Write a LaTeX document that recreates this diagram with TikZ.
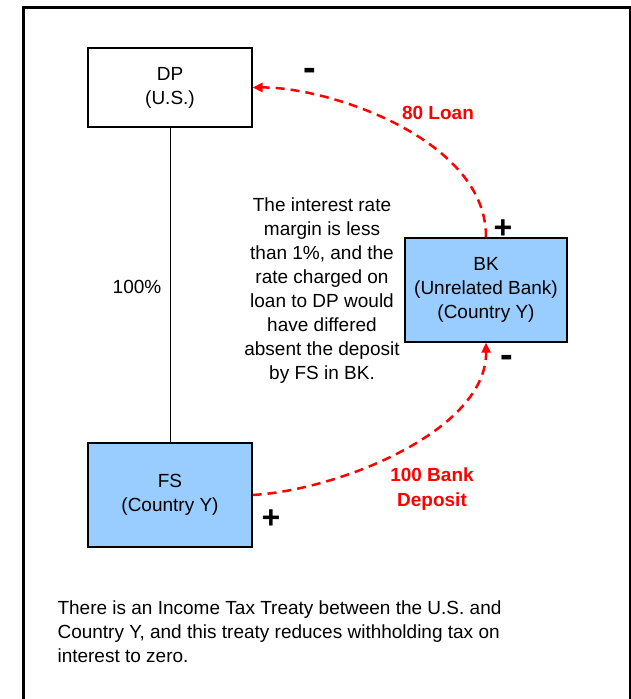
\documentclass[tikz,border=0pt]{standalone}
\usepackage{fontspec}
\setmainfont{Liberation Sans}
\usepackage{xcolor}
\usetikzlibrary{arrows.meta}
\definecolor{entityblue}{HTML}{99ccff}
\definecolor{flowred}{HTML}{ff0000}

\tikzset{
    entity/.style = {draw, rectangle, line width = 1.2pt, minimum width = 164pt, minimum height = 104pt, align = center, font = \fontsize{19}{24}\selectfont},
    flow/.style = {-{Triangle[length = 10pt, width = 9pt]}, flowred, line width = 2.5pt, dash pattern = on 9pt off 6pt},
    flowlabel/.style = {flowred, align = center, font = \fontsize{19}{25}\selectfont\bfseries},
    sign/.style = {font = \fontsize{32}{32}\selectfont\bfseries, inner sep = 0pt},
    minussign/.style = {sign, font = \fontsize{38}{38}\selectfont\bfseries}
}

\begin{document}
\begin{tikzpicture}[x = 1pt, y = -1pt]
        \useasboundingbox (0, 0) rectangle (631, 699);

        % Frame (open at the bottom)
        \draw [line width = 3pt] (23, 699) -- (23, 7) -- (630, 7) -- (630, 699);

        % Nodes
        \node [entity, fill = white, minimum height = 79pt] (dp) at (170, 87.5) {DP\\(U.S.)};
        \node [entity, fill = entityblue, minimum width = 162pt] (bk) at (486, 290) {BK\\(Unrelated Bank)\\(Country Y)};
        \node [entity, fill = entityblue] (fs) at (170, 495) {FS\\(Country Y)};

        % Ownership
        \draw [line width = 1pt] (dp.south) -- (fs.north);
        \node [font = \fontsize{19}{24}\selectfont] (own) at (137, 287) {100\%};

        % Draw the links
        \draw [flow] (bk.north) .. controls (487, 140) and (330, 87) .. (dp.east);
        \draw [flow] (fs.east) .. controls (340, 490) and (487, 430) .. (bk.south);

        % Link labels
        \node [flowlabel] (loan) at (438, 113) {80 Loan};
        \node [flowlabel] (deposit) at (432, 489) {100 Bank\\Deposit};

        % Signs
        \node [minussign] (dpminus) at (310, 74) {-};
        \node [sign] (bkplus) at (503, 229) {+};
        \node [minussign] (bkminus) at (507, 361) {-};
        \node [sign] (fsplus) at (271, 519) {+};

        % Notes
        \node [align = center, font = \fontsize{19}{24}\selectfont] (margin) at (322, 291) {The interest rate\\margin is less\\than 1\%, and the\\rate charged on\\loan to DP would\\have differed\\absent the deposit\\by FS in BK.};
        \node [align = left, anchor = west, font = \fontsize{19}{24}\selectfont] (treaty) at (54, 632) {There is an Income Tax Treaty between the U.S. and\\Country Y, and this treaty reduces withholding tax on\\interest to zero.};

    \end{tikzpicture}
\end{document}
